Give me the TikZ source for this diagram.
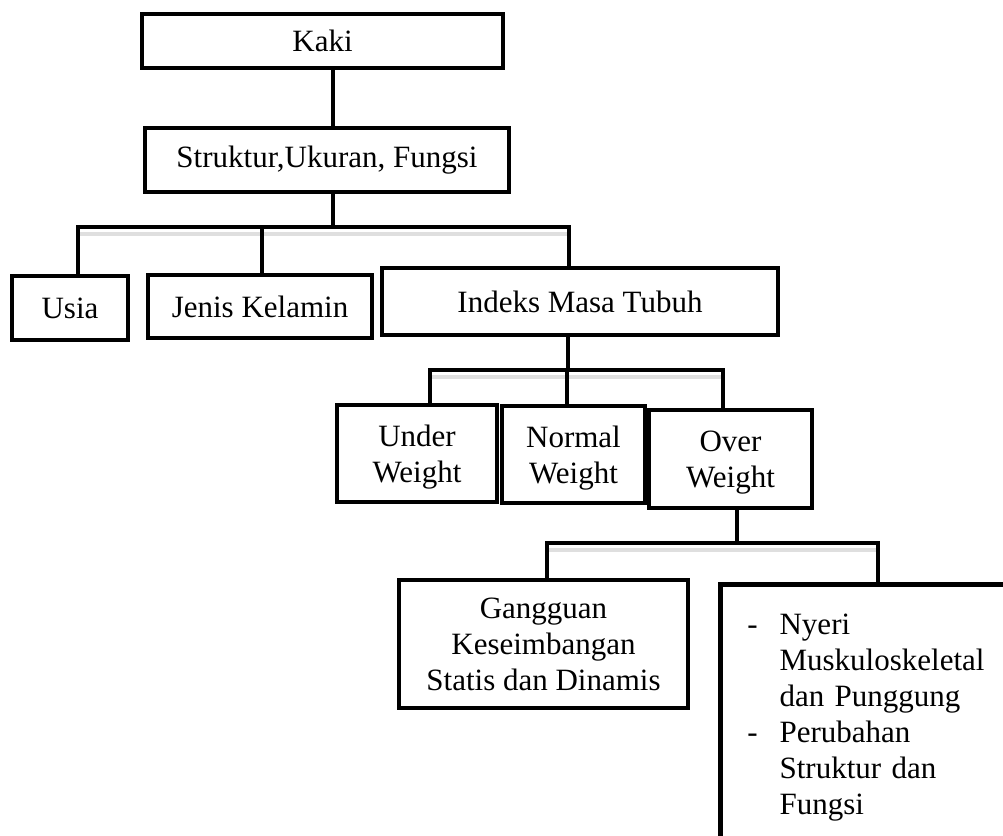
\documentclass[tikz,border=0pt]{standalone}
\usepackage{fontspec}
\setmainfont{Liberation Serif}

\begin{document}
\begin{tikzpicture}[x=0.5pt,y=-0.5pt,
    kotak/.style={draw,line width=2.3pt,inner sep=0pt,align=center,font=\fontsize{15.5}{18}\selectfont},
    garis/.style={line width=2.3pt,line cap=rect},
    bayang/.style={line width=1.6pt,gray!25}]
    \useasboundingbox (0,0) rectangle (1003,836);
    \clip (0,0) rectangle (1003,836);
    % kotak-kotak
    \node[kotak,minimum width=180.5pt,minimum height=27pt] (kaki) at (322.5,41) {Kaki};
    \node[kotak,minimum width=182pt,minimum height=32pt] (struktur) at (327,160) {Struktur,Ukuran, Fungsi};
    \node[kotak,minimum width=58pt,minimum height=32pt] (usia) at (70,308) {Usia};
    \node[kotak,minimum width=112pt,minimum height=31.5pt] (jenis) at (260,306.5) {Jenis Kelamin};
    \node[kotak,minimum width=198pt,minimum height=33.5pt] (imt) at (580,301.5) {Indeks Masa Tubuh};
    \node[kotak,text depth=0pt,minimum width=80pt,minimum height=48.5pt] (under) at (417,453.5) {Under\\Weight};
    \node[kotak,text depth=0pt,minimum width=71.5pt,minimum height=48.5pt] (normal) at (573.5,454.5) {Normal\\Weight};
    \node[kotak,text depth=0pt,minimum width=81.5pt,minimum height=49pt] (over) at (730.5,459) {Over\\Weight};
    \node[kotak,minimum width=144.5pt,minimum height=64pt] (gangguan) at (543.5,644) {Gangguan\\Keseimbangan\\Statis dan Dinamis};
    \node[kotak,anchor=north west,text width=130pt,inner xsep=13.5pt,align=left,minimum height=133pt] (dampak) at (718,582)
        {\noindent\begin{tabular}{@{}l@{\hspace{11pt}}l@{}}
        - & Nyeri\\
          & Muskuloskeletal\\
          & dan Punggung\\
        - & Perubahan\\
          & Struktur dan\\
          & Fungsi
        \end{tabular}};
    % titik cabang
    \coordinate (c1) at (333,227);
    \coordinate (c1a) at (78,227);
    \coordinate (c1b) at (262,227);
    \coordinate (c1c) at (569,227);
    \coordinate (c2) at (568,370);
    \coordinate (c2a) at (430,370);
    \coordinate (c2b) at (567,370);
    \coordinate (c2c) at (723,370);
    \coordinate (c3) at (737,543);
    \coordinate (c3a) at (547,543);
    \coordinate (c3b) at (878,543);
    % bayangan di bawah garis
    \draw[bayang] ([yshift=-3.5pt]c1a) -- ([yshift=-3.5pt]c1c);
    \draw[bayang] ([yshift=-3.5pt]c2a) -- ([yshift=-3.5pt]c2c);
    \draw[bayang] ([yshift=-3.5pt]c3a) -- ([yshift=-3.5pt]c3b);
    % garis penghubung
    \draw[garis] (kaki.south -| c1) -- (struktur.north -| c1);
    \draw[garis] (struktur.south -| c1) -- (c1);
    \draw[garis] (c1a) -- (c1c);
    \draw[garis] (c1a) -- (c1a |- usia.north);
    \draw[garis] (c1b) -- (c1b |- jenis.north);
    \draw[garis] (c1c) -- (c1c |- imt.north);
    \draw[garis] (imt.south -| c2) -- (c2);
    \draw[garis] (c2a) -- (c2c);
    \draw[garis] (c2a) -- (c2a |- under.north);
    \draw[garis] (c2b) -- (c2b |- normal.north);
    \draw[garis] (c2c) -- (c2c |- over.north);
    \draw[garis] (over.south -| c3) -- (c3);
    \draw[garis] (c3a) -- (c3b);
    \draw[garis] (c3a) -- (c3a |- gangguan.north);
    \draw[garis] (c3b) -- (c3b |- dampak.north);
\end{tikzpicture}
\end{document}
